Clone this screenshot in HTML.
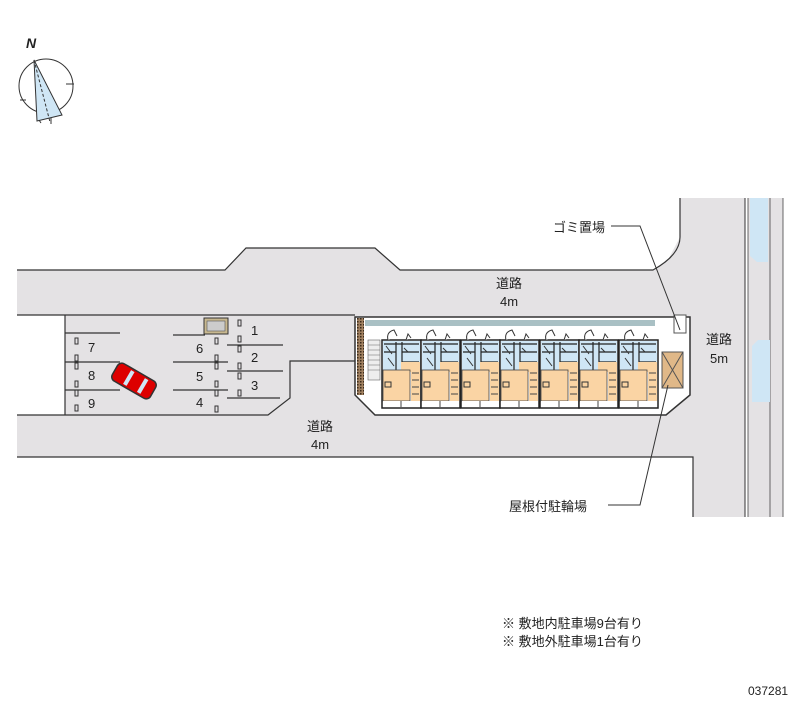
<!DOCTYPE html>
<html><head><meta charset="utf-8">
<style>html,body{margin:0;padding:0;background:#fff}svg{display:block}
text{font-family:"Liberation Sans","Noto Sans CJK JP",sans-serif;fill:#222}</style></head>
<body>
<svg width="800" height="727" viewBox="0 0 800 727" xmlns="http://www.w3.org/2000/svg">
<defs>
<pattern id="hat" width="3" height="3" patternUnits="userSpaceOnUse"><rect width="3" height="3" fill="#a08060"/><rect width="1.5" height="1.5" fill="#3a2a1a"/></pattern>
<g id="unit">
 <rect x="0" y="0" width="39" height="68" fill="#fff" stroke="#222" stroke-width="1.5"/>
 <rect x="1" y="1" width="37" height="30" fill="#cfe6f5"/>
 <path d="M2 4h35M2 12h12M20 12h17M20 22h17M14 2v28M20 2v20" stroke="#222" stroke-width="1.2" fill="none"/>
 <path d="M4 6l6 8M6 18l6 8M22 8l4 4" stroke="#333" stroke-width="1" fill="none"/>
 <rect x="19" y="22" width="19" height="10" fill="#fad4a4"/>
 <rect x="1" y="30" width="27" height="31" fill="#fad4a4" stroke="#444" stroke-width="0.8"/>
 <rect x="29" y="30" width="9" height="31" fill="#fad4a4"/>
 <path d="M30 33h7M30 40h7M30 47h7M30 54h7" stroke="#444" stroke-width="1"/>
 <rect x="3" y="42" width="6" height="5" fill="none" stroke="#333" stroke-width="1"/>
 <rect x="1" y="61" width="37" height="6" fill="#fff"/>
 <path d="M19 61v6" stroke="#444"/>
 <path d="M6 0 q-2 -8 6 -10 l3 6M24 0l2 -6 3 4" stroke="#333" stroke-width="1" fill="#fff"/>
</g>
</defs>

<!-- compass -->
<circle cx="46" cy="86" r="27" fill="none" stroke="#333" stroke-width="1"/>
<path d="M20 100h6M66 84h8M37 117l4 6M51 116l0 8" stroke="#333"/>
<polygon points="34,60 62,115 37,121" fill="#cfe6f5" stroke="#333" stroke-width="1"/>
<line x1="34" y1="60" x2="50" y2="122" stroke="#333" stroke-dasharray="3,2"/>
<text x="26" y="48" font-size="14" font-style="italic" font-weight="bold" font-family="Liberation Serif">N</text>

<!-- roads -->
<polygon points="17,270 225,270 246,248 375,248 400,270 653,270 669,258 680,237 680,198 745,198 745,517 693,517 693,457 17,457" fill="#e4e2e4"/>
<rect x="17" y="315" width="48" height="100" fill="#fff"/>
<path d="M17 270H225L246 248H375L400 270H653Q680 255 680 237V198" fill="none" stroke="#333" stroke-width="1.2"/>
<path d="M17 315H355" stroke="#333" stroke-width="1.2"/>
<path d="M65 315V415M17 415H268L290 398V361H355" fill="none" stroke="#333" stroke-width="1.2"/>
<path d="M17 457H693V517" fill="none" stroke="#333" stroke-width="1.2"/>
<path d="M745 198V517" stroke="#333" stroke-width="1"/>
<!-- canal -->
<rect x="748" y="198" width="35" height="319" fill="#e4e2e4"/>
<path d="M748 198V517M783 198V517M770 198V517" stroke="#444" stroke-width="0.8"/>
<polygon points="750,198 768,198 768,262 757,262 750,256" fill="#cfe6f5"/>
<polygon points="752,346 758,340 770,340 770,402 752,402" fill="#cfe6f5"/>

<!-- parking lines -->
<g stroke="#333" stroke-width="1.3">
<path d="M65 333H120M65 362H120M65 390H120M173 335H205M173 362H228M173 390H228M227 345H283M227 371H283M227 398H280"/>
</g>
<g fill="none" stroke="#333" stroke-width="1">
<rect x="75" y="338" width="3" height="6"/><rect x="75" y="355" width="3" height="6"/><rect x="75" y="363" width="3" height="6"/><rect x="75" y="381" width="3" height="6"/><rect x="75" y="390" width="3" height="6"/><rect x="75" y="405" width="3" height="6"/>
<rect x="215" y="338" width="3" height="6"/><rect x="215" y="355" width="3" height="6"/><rect x="215" y="363" width="3" height="6"/><rect x="215" y="381" width="3" height="6"/><rect x="215" y="390" width="3" height="6"/><rect x="215" y="406" width="3" height="6"/>
<rect x="238" y="320" width="3" height="6"/><rect x="238" y="336" width="3" height="6"/><rect x="238" y="346" width="3" height="6"/><rect x="238" y="363" width="3" height="6"/><rect x="238" y="373" width="3" height="6"/><rect x="238" y="390" width="3" height="6"/>
</g>
<g font-size="13">
<text x="88" y="352">7</text><text x="88" y="380">8</text><text x="88" y="408">9</text>
<text x="196" y="353">6</text><text x="196" y="381">5</text><text x="196" y="407">4</text>
<text x="251" y="335">1</text><text x="251" y="362">2</text><text x="251" y="390">3</text>
</g>
<rect x="204" y="318" width="24" height="16" fill="#c8b890" stroke="#333"/>
<rect x="207" y="321" width="18" height="10" fill="#ccc" stroke="#555" stroke-width="0.6"/>
<!-- car -->
<g transform="translate(134,381) rotate(30)">
<rect x="-22" y="-10" width="44" height="20" rx="5" fill="#d00" stroke="#333" stroke-width="1.5"/>
<rect x="-8" y="-8" width="4" height="16" fill="#cfe6f5"/><rect x="8" y="-8" width="4" height="16" fill="#cfe6f5"/>
</g>

<!-- building site -->
<polygon points="355,317 690,317 690,395 666,415 375,415 355,395" fill="#fff" stroke="#333" stroke-width="1.5"/>
<rect x="357" y="318" width="7" height="77" fill="url(#hat)"/>
<rect x="365" y="320" width="290" height="6" fill="#a9c0c4"/>
<rect x="368" y="340" width="12" height="40" fill="#eee" stroke="#666" stroke-width="0.6"/>
<path d="M368 345h12M368 350h12M368 355h12M368 360h12M368 365h12M368 370h12" stroke="#666" stroke-width="0.6"/>
<use href="#unit" x="382" y="340"/><use href="#unit" x="421" y="340"/><use href="#unit" x="461" y="340"/><use href="#unit" x="500" y="340"/><use href="#unit" x="540" y="340"/><use href="#unit" x="579" y="340"/><use href="#unit" x="619" y="340"/>
<rect x="662" y="352" width="21" height="36" fill="#e0b888" stroke="#555"/>
<path d="M662 352L683 388M683 352L662 388" stroke="#555"/>
<rect x="674" y="315" width="12" height="18" fill="#fff" stroke="#555"/>

<!-- leaders -->
<path d="M611 226H640L680 330" fill="none" stroke="#333"/>
<path d="M608 505H640L668 385" fill="none" stroke="#333"/>

<!-- labels -->
<g font-size="13">
<text x="509" y="288" text-anchor="middle">道路</text><text x="509" y="306" text-anchor="middle">4m</text>
<text x="320" y="431" text-anchor="middle">道路</text><text x="320" y="449" text-anchor="middle">4m</text>
<text x="719" y="344" text-anchor="middle">道路</text><text x="719" y="363" text-anchor="middle">5m</text>
<text x="553" y="232">ゴミ置場</text>
<text x="509" y="511">屋根付駐輪場</text>
<text x="502" y="628">※ 敷地内駐車場9台有り</text>
<text x="502" y="646">※ 敷地外駐車場1台有り</text>
<text x="748" y="695" font-size="12">037281</text>
</g>
</svg>
</body></html>
